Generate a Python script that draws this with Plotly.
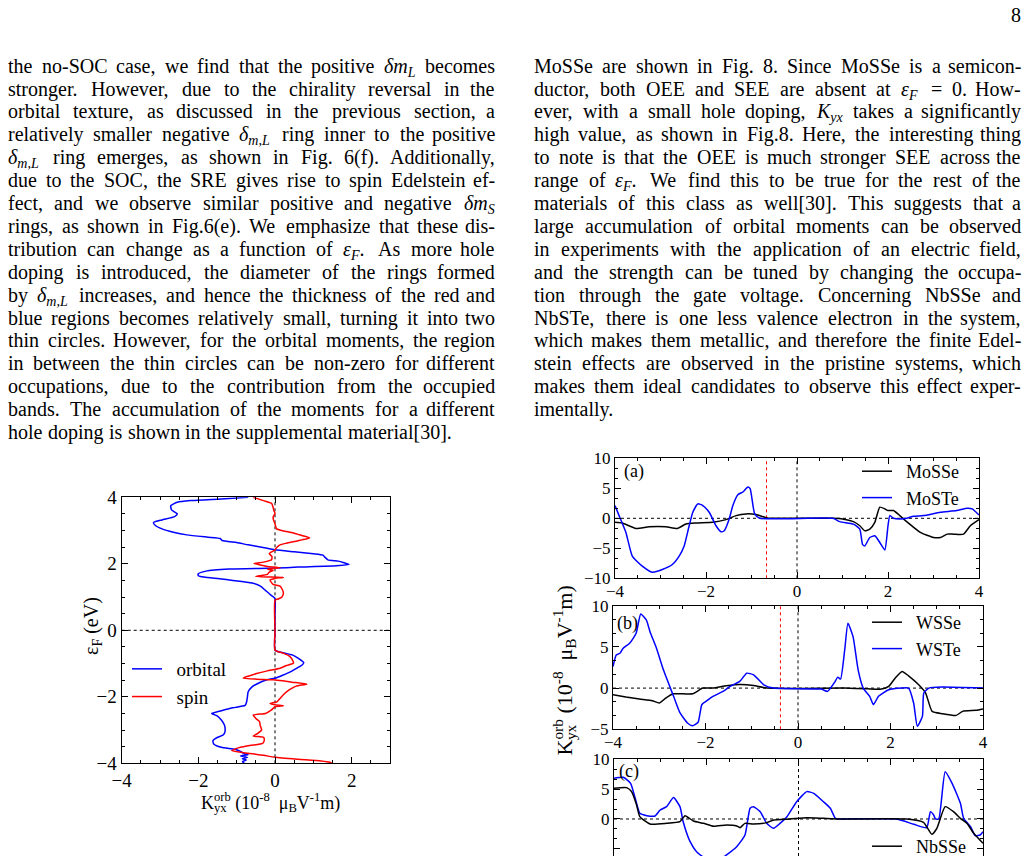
import plotly.graph_objects as go

# ---------------------------------------------------------------- data
# left chart: Fermi energy (eV) vs K_yx (1e-8 muB V^-1 m)
orb_E = [4.00, 3.95, 3.90, 3.85, 3.75, 3.62, 3.50, 3.42, 3.32, 3.24, 3.15, 3.05, 2.95, 2.87, 2.80, 2.76, 2.70, 2.64,
         2.57, 2.50, 2.42, 2.36, 2.30, 2.26, 2.20, 2.12, 2.08, 2.03, 1.98, 1.94, 1.90, 1.87, 1.84, 1.78, 1.70, 1.64,
         1.60, 1.55, 1.50, 1.42, 1.33, 1.20, 1.05, 0.96, 0.50, 0.00, -0.60, -0.66, -0.74, -0.85, -0.97, -1.05, -1.15,
         -1.25, -1.35, -1.44, -1.50, -1.60, -1.70, -1.85, -2.00, -2.15, -2.26, -2.33, -2.42, -2.50, -2.58, -2.70,
         -2.85, -3.00, -3.10, -3.15, -3.25, -3.32, -3.42, -3.52, -3.58, -3.64, -3.70, -3.74, -3.78, -3.82, -3.86,
         -3.90, -3.95, -4.00]
orb_K = [-0.70, -1.40, -2.20, -2.55, -2.72, -2.70, -2.55, -2.62, -2.95, -3.17, -3.12, -2.95, -2.65, -2.30, -1.75,
         -1.43, -1.38, -1.00, -0.70, -0.35, 0.00, 0.50, 1.00, 1.25, 1.30, 1.38, 1.65, 1.80, 1.93, 1.60, 0.60, 0.00,
         -1.20, -1.80, -2.00, -2.00, -1.85, -1.45, -1.10, -0.60, -0.38, -0.25, -0.10, 0.00, 0.00, 0.00, 0.00, 0.15,
         0.45, 0.62, 0.75, 0.70, 0.55, 0.40, 0.20, 0.00, -0.25, -0.45, -0.60, -0.70, -0.72, -0.74, -0.78, -1.10,
         -1.40, -1.65, -1.50, -1.40, -1.32, -1.30, -1.32, -1.36, -1.55, -1.62, -1.60, -1.40, -1.05, -0.90, -0.82,
         -0.70, -0.90, -0.72, -0.85, -0.75, -0.85, -0.80]
spin_E = [4.00, 3.90, 3.82, 3.70, 3.60, 3.52, 3.40, 3.32, 3.20, 3.05, 2.97, 2.92, 2.85, 2.78, 2.72, 2.68, 2.62, 2.57,
          2.50, 2.42, 2.35, 2.30, 2.22, 2.12, 2.05, 2.01, 1.97, 1.92, 1.88, 1.84, 1.80, 1.75, 1.68, 1.62, 1.59, 1.56,
          1.51, 1.45, 1.38, 1.33, 1.25, 1.12, 1.00, 0.95, 0.90, 0.00, -0.60, -0.68, -0.79, -0.90, -0.99, -1.06, -1.14,
          -1.22, -1.30, -1.38, -1.44, -1.47, -1.49, -1.52, -1.56, -1.62, -1.68, -1.78, -1.90, -2.05, -2.15, -2.20,
          -2.24, -2.27, -2.30, -2.40, -2.50, -2.55, -2.65, -2.75, -2.85, -3.00, -3.10, -3.18, -3.22, -3.30, -3.40,
          -3.48, -3.55, -3.62, -3.70, -3.76, -3.82, -3.88, -3.93, -3.97, -4.00]
spin_K = [-0.57, -0.30, -0.09, -0.05, -0.03, 0.00, -0.05, -0.04, 0.00, 0.04, 0.30, 0.50, 0.70, 0.90, 0.70, 0.55, 0.30,
          0.13, 0.05, 0.00, -0.10, -0.15, -0.08, -0.09, -0.30, -0.55, -0.40, -0.20, 0.13, -0.20, -0.05, -0.15, -0.20,
          -0.50, 0.22, 0.00, -0.13, -0.10, -0.05, 0.13, 0.18, 0.22, 0.18, 0.10, 0.00, 0.00, 0.00, 0.20, 0.39, 0.46,
          0.48, 0.30, 0.13, -0.20, -0.48, -0.70, -0.83, -0.48, -0.04, 0.20, 0.45, 0.83, 0.55, 0.39, 0.25, 0.13, 0.05,
          -0.13, 0.00, 0.22, 0.00, -0.10, -0.25, -0.57, -0.50, -0.40, -0.39, -0.35, -0.45, -0.57, -0.30, -0.28,
          -0.32, -0.74, -1.00, -1.13, -0.70, -0.30, 0.00, 0.60, 1.20, 1.43, 1.48]

# right chart, panel (a)
mosse_x = [-4, -3.84, -3.54, -3.25, -2.88, -2.63, -2.44, -2.22, -1.85, -1.56, -1.34, -1.12, -0.90, -0.68, -0.53, 0.79,
           1.00, 1.24, 1.38, 1.49, 1.60, 1.71, 1.82, 1.93, 2.00, 2.12, 2.26, 2.41, 2.71, 3.00, 3.15, 3.30, 3.44, 3.66,
           3.81, 4.00]
mosse_y = [-0.67, -0.79, -1.69, -1.40, -1.40, -1.69, -0.96, -0.79, -0.67, -0.22, 0.45, 0.73, 0.62, 0.11, 0, 0, -0.1,
           -0.56, -1.24, -2.08, -1.80, -0.67, 1.85, 1.57, 1.29, 1.29, 0.45, -0.56, -2.36, -3.20, -3.20, -2.64, -2.64,
           -2.64, -1.24, -0.22]
moste_x = [-4, -3.91, -3.76, -3.62, -3.40, -3.18, -2.96, -2.74, -2.59, -2.48, -2.37, -2.29, -2.18, -2.07, -1.93, -1.78,
           -1.67, -1.60, -1.49, -1.41, -1.30, -1.19, -1.08, -1.03, -0.93, -0.82, 0.79, 0.94, 1.24, 1.38, 1.44, 1.49,
           1.60, 1.71, 1.82, 1.93, 2.00, 2.04, 2.12, 2.26, 2.41, 2.56, 2.78, 3.15, 3.51, 3.74, 3.85, 4.00]
moste_y = [2.13, 0.45, -2.36, -6.30, -7.98, -8.99, -8.54, -7.70, -6.30, -4.60, -1.24, 1.00, 2.40, 2.13, 1.00, -1.24,
           -2.25, -2.08, -0.11, 2.13, 3.93, 4.38, 5.22, 4.94, 0.73, 0, 0, -0.56, -0.96, -1.80, -4.33, -4.60, -3.20,
           -2.92, -4.04, -5.28, -1.24, 0.45, 0, -0.11, 0, 0.34, 0.45, 1.00, 1.29, 1.69, 1.57, 0.56]
# panel (b)
wsse_x = [-4, -3.72, -3.43, -3.15, -3.00, -2.86, -2.70, -2.28, -2.06, -1.84, -1.55, -1.26, -0.96, -0.67, 1.00, 1.50,
          1.81, 1.96, 2.10, 2.25, 2.39, 2.61, 2.76, 2.90, 3.12, 3.42, 3.56, 3.85, 4.00]
wsse_y = [-0.81, -1.09, -1.33, -1.53, -1.81, -1.21, -0.69, -0.69, 0, 0, 0.28, 0.44, 0.32, 0, 0, -0.08, -0.12, 0.20,
          1.21, 2.02, 1.49, 0.40, -0.60, -2.82, -3.10, -3.31, -2.82, -2.70, -2.54]
wste_x = [-4, -3.93, -3.85, -3.78, -3.64, -3.50, -3.40, -3.28, -3.20, -3.06, -2.91, -2.69, -2.55, -2.39, -2.28, -2.16,
          -2.08, -1.99, -1.84, -1.62, -1.47, -1.26, -1.11, -0.96, -0.74, -0.53, 0.50, 0.64, 0.79, 0.86, 0.92, 1.01,
          1.08, 1.19, 1.30, 1.41, 1.55, 1.63, 1.74, 1.96, 2.25, 2.39, 2.50, 2.58, 2.69, 2.72, 2.83, 3.12, 4.00]
wste_y = [2.62, 4.03, 4.23, 4.84, 5.44, 6.65, 9.00, 8.27, 6.85, 4.84, 2.22, -1.00, -3.02, -4.23, -4.56, -4.15, -2.02,
          -1.61, -1.00, -0.40, 0.20, 0.81, 1.81, 1.61, 0.40, 0, -0.12, -0.40, 0.69, 1.33, 1.09, 4.64, 7.86, 6.25, 2.22,
          0, -1.00, -2.02, -1.00, -0.20, 0, 0, -1.81, -4.64, -3.43, -0.60, 0, 0.12, 0]
# panel (c)
nbsse_x = [-4, -3.73, -3.62, -3.51, -3.44, -3.22, -2.86, -2.57, -2.46, -2.28, -2.06, -1.84, -1.56, -1.34, -1.27, -1.16,
           -0.98, -0.69, -0.54, -0.18, 0.18, 0.54, 0.90, 2.35, 2.71, 2.89, 3.00, 3.18, 3.36, 3.51, 3.65, 3.80, 4.00]
nbsse_y = [5.14, 5.25, 4.58, 2.35, 0.39, -0.84, -0.73, -0.45, 0.56, -0.34, -0.73, -1.23, -1.00, -1.17, -1.45, -0.73,
           -0.84, -0.61, -0.17, 0, 0.22, 0.11, 0, 0, -0.56, -2.57, -1.56, 2.07, 1.23, 0.11, -0.73, -2.40, -4.08]
nbste_x = [-4, -3.80, -3.64, -3.54, -3.44, -3.29, -3.11, -3.00, -2.86, -2.71, -2.57, -2.50, -2.35, -2.21, -1.99, -1.80,
           -1.56, -1.34, -1.16, -1.05, -0.98, -0.83, -0.69, -0.54, -0.40, -0.25, -0.04, 0.18, 0.33, 0.54, 0.69, 0.80,
           0.90, 2.13, 2.50, 2.78, 2.86, 2.93, 2.97, 3.04, 3.18, 3.33, 3.51, 3.58, 3.73, 3.83, 3.94, 4.00]
nbste_y = [6.82, 6.98, 5.98, 3.46, 0.95, 0.56, 0.50, 1.50, 2.07, 3.58, 2.07, -0.45, -3.80, -5.47, -6.80, -7.20, -6.00,
           -4.64, -2.68, 1.79, 2.07, 1.23, -0.73, -1.56, -0.73, 0.39, 2.90, 4.58, 4.30, 2.90, 1.79, 0.11, 0, 0, -0.89,
           -1.45, 1.23, 0.67, 0, 0, 7.93, 5.98, 2.63, 0.11, -1.28, -2.79, -2.68, -2.12]

# tick values
left_xticks = [-4, -2, 0, 2]
left_yticks = [-4, -2, 0, 2, 4]
right_xticks = [-4, -2, 0, 2, 4]
a_yticks = [-10, -5, 0, 5, 10]
b_yticks = [-5, 0, 5, 10]
c_yticks = [-5, 0, 5, 10]
red_markers = {"a": -0.67, "b": -0.38}   # vertical red dotted lines

# page text
LEFT_LINES = [
    "the no-SOC case, we find that the positive δmL becomes",
    "stronger. However, due to the chirality reversal in the",
    "orbital texture, as discussed in the previous section, a",
    "relatively smaller negative δm,L ring inner to the positive",
    "δm,L ring emerges, as shown in Fig. 6(f). Additionally,",
    "due to the SOC, the SRE gives rise to spin Edelstein ef-",
    "fect, and we observe similar positive and negative δmS",
    "rings, as shown in Fig.6(e). We emphasize that these dis-",
    "tribution can change as a function of εF. As more hole",
    "doping is introduced, the diameter of the rings formed",
    "by δm,L increases, and hence the thickness of the red and",
    "blue regions becomes relatively small, turning it into two",
    "thin circles. However, for the orbital moments, the region",
    "in between the thin circles can be non-zero for different",
    "occupations, due to the contribution from the occupied",
    "bands. The accumulation of the moments for a different",
    "hole doping is shown in the supplemental material[30].",
]
RIGHT_LINES = [
    "MoSSe are shown in Fig. 8. Since MoSSe is a semicon-",
    "ductor, both OEE and SEE are absent at εF = 0. How-",
    "ever, with a small hole doping, Kyx takes a significantly",
    "high value, as shown in Fig.8. Here, the interesting thing",
    "to note is that the OEE is much stronger SEE across the",
    "range of εF. We find this to be true for the rest of the",
    "materials of this class as well[30]. This suggests that a",
    "large accumulation of orbital moments can be observed",
    "in experiments with the application of an electric field,",
    "and the strength can be tuned by changing the occupa-",
    "tion through the gate voltage. Concerning NbSSe and",
    "NbSTe, there is one less valence electron in the system,",
    "which makes them metallic, and therefore the finite Edel-",
    "stein effects are observed in the pristine systems, which",
    "makes them ideal candidates to observe this effect exper-",
    "imentally.",
]

# ---------------------------------------------------------------- helpers
W, H = 1029, 856
SERIF = "Liberation Serif"
BLUE, RED, BLACK = "#0000ff", "#ff0000", "#000000"


def px(x):
    return x / W


def py(y):
    return 1 - y / H


TW = {' ': 250, 'a': 444, 'b': 500, 'c': 444, 'd': 500, 'e': 444, 'f': 333, 'g': 500, 'h': 500, 'i': 278, 'j': 278,
      'k': 500, 'l': 278, 'm': 778, 'n': 500, 'o': 500, 'p': 500, 'q': 500, 'r': 333, 's': 389, 't': 278, 'u': 500,
      'v': 500, 'w': 722, 'x': 500, 'y': 500, 'z': 444, 'A': 722, 'B': 667, 'C': 667, 'D': 722, 'E': 611, 'F': 556,
      'G': 722, 'H': 722, 'I': 333, 'J': 389, 'K': 722, 'L': 611, 'M': 889, 'N': 722, 'O': 722, 'P': 556, 'Q': 722,
      'R': 667, 'S': 556, 'T': 611, 'U': 722, 'V': 722, 'W': 944, 'X': 722, 'Y': 722, 'Z': 611, '.': 250, ',': 250,
      '-': 333, '(': 333, ')': 333, '[': 333, ']': 333, ':': 278, '=': 564}
for d in "0123456789":
    TW[d] = 500
TWI = {'m': 722, 'L': 556, 'S': 500, 'F': 611, 'K': 667, 'y': 444, 'x': 444, ',': 250, 'δ': 500, 'ε': 450}


def tw(s, table=None):
    t = table or {}
    return sum(t.get(c, TW.get(c, 500)) for c in s) / 1000.0


def mathword(main, sub, tail=""):
    html = "<i>%s</i><sub><i>%s</i></sub>%s" % (main, sub, tail)
    return html, tw(main, TWI) + 0.7 * tw(sub, TWI) + tw(tail) + 0.1


SPECIAL = {
    "δmL": mathword("δm", "L"),
    "δmS": mathword("δm", "S"),
    "δm,L": mathword("δ", "m,L"),
    "εF": mathword("ε", "F"),
    "εF.": mathword("ε", "F", "."),
    "Kyx": mathword("K", "yx"),
}

annotations = []


def add_paragraph(lines, x0, x1, yc0, dy, size):
    for i, line in enumerate(lines):
        items = [SPECIAL.get(w_, (w_, tw(w_))) for w_ in line.split(" ")]
        widths = [wd * size for _, wd in items]
        last = (i == len(lines) - 1)
        if last or len(items) == 1:
            gap = 0.27 * size
        else:
            gap = (x1 - x0 - sum(widths)) / (len(items) - 1)
        x = x0
        ytop = yc0 + i * dy - 13
        for k, ((html, _), wpx) in enumerate(zip(items, widths)):
            anchor_right = (k == len(items) - 1 and not last and len(items) > 1)
            annotations.append(dict(
                text=html, x=px(x1 if anchor_right else x), y=py(ytop), xref="paper", yref="paper",
                xanchor="right" if anchor_right else "left", yanchor="top", showarrow=False, borderpad=0,
                font=dict(family=SERIF, size=size, color=BLACK)))
            x += wpx + gap


add_paragraph(LEFT_LINES, 7, 496, 66.7, 22.9, 20)
add_paragraph(RIGHT_LINES, 533, 1022, 66.7, 22.9, 20)


def txt(text, x, y, size, xanchor="center", yanchor="middle", angle=0):
    annotations.append(dict(text=text, x=px(x), y=py(y), xref="paper", yref="paper", xanchor=xanchor,
                            yanchor=yanchor, showarrow=False, borderpad=0, textangle=angle,
                            font=dict(family=SERIF, size=size, color=BLACK)))


# axis title with "orb" stacked over "yx": main text plus a second text holding the subscript
TITLE_MAIN = "K<sup>orb</sup> (10<sup>-8</sup>\u00a0\u00a0μ<sub>B</sub>V<sup>-1</sup>m)"
TITLE_SUB = "<span style=\"color:rgba(0,0,0,0)\">K</span><sub>yx</sub>"

txt("8", 1016, 15, 20)
# left x title (horizontal)
txt(TITLE_MAIN, 200, 816, 18, xanchor="left", yanchor="bottom")
txt(TITLE_SUB, 200, 816, 18, xanchor="left", yanchor="bottom")
# right y title (rotated)
txt(TITLE_MAIN, 580, 757, 22, xanchor="right", yanchor="bottom", angle=-90)
txt(TITLE_SUB, 580, 757, 22, xanchor="right", yanchor="bottom", angle=-90)
# left y title
txt("ε<sub>F</sub> (eV)", 92, 626, 20, angle=-90)
# panel labels
txt("(a)", 623, 471, 18, xanchor="left")
txt("(b)", 616, 623, 18, xanchor="left")
txt("(c)", 618, 771, 18, xanchor="left")

# ---------------------------------------------------------------- figure
fig = go.Figure()
lw = 1.5


def line(color):
    return dict(color=color, width=lw, shape="spline", smoothing=0.5)


fig.add_trace(go.Scatter(x=orb_K, y=orb_E, mode="lines", name="\u00a0\u00a0orbital", line=line(BLUE),
                         xaxis="x", yaxis="y", legend="legend"))
fig.add_trace(go.Scatter(x=spin_K, y=spin_E, mode="lines", name="\u00a0\u00a0spin", line=line(RED),
                         xaxis="x", yaxis="y", legend="legend"))
fig.add_trace(go.Scatter(x=mosse_x, y=mosse_y, mode="lines", name="\u00a0\u00a0MoSSe", line=line(BLACK),
                         xaxis="x2", yaxis="y2", legend="legend2"))
fig.add_trace(go.Scatter(x=moste_x, y=moste_y, mode="lines", name="\u00a0\u00a0MoSTe", line=line(BLUE),
                         xaxis="x2", yaxis="y2", legend="legend2"))
fig.add_trace(go.Scatter(x=wsse_x, y=wsse_y, mode="lines", name="\u00a0\u00a0WSSe", line=line(BLACK),
                         xaxis="x3", yaxis="y3", legend="legend3"))
fig.add_trace(go.Scatter(x=wste_x, y=wste_y, mode="lines", name="\u00a0\u00a0WSTe", line=line(BLUE),
                         xaxis="x3", yaxis="y3", legend="legend3"))
fig.add_trace(go.Scatter(x=nbste_x, y=nbste_y, mode="lines", name="NbSTe", line=line(BLUE),
                         xaxis="x4", yaxis="y4", showlegend=False))
fig.add_trace(go.Scatter(x=nbsse_x, y=nbsse_y, mode="lines", name="\u00a0\u00a0NbSSe", line=line(BLACK),
                         xaxis="x4", yaxis="y4", legend="legend4"))


def axis(domain, rng, ticks, minor_dtick, anchor, size, **kw):
    d = dict(domain=domain, range=rng, anchor=anchor, tickmode="array", tickvals=ticks,
             showline=True, linecolor=BLACK, linewidth=1.2, mirror="allticks", ticks="inside", ticklen=6,
             tickwidth=1, tickcolor=BLACK, showgrid=False, zeroline=False, automargin=False,
             tickfont=dict(family=SERIF, size=size, color=BLACK),
             minor=dict(ticks="inside", ticklen=3, tickwidth=1, tickcolor=BLACK, tickmode="linear", tick0=0,
                        dtick=minor_dtick, showgrid=False))
    d.update(kw)
    return d


layout = dict(
    width=W, height=H, margin=dict(l=0, r=0, t=0, b=0, autoexpand=False),
    paper_bgcolor="white", plot_bgcolor="white",
    xaxis=axis([px(121.7), px(390)], [-4, 3], left_xticks, 0.5, "y", 19),
    yaxis=axis([py(763.3), py(497.3)], [-4, 4], left_yticks, 0.5, "x", 19),
    xaxis2=axis([px(615), px(979)], [-4, 4], right_xticks, 0.5, "y2", 17, ticklabelstandoff=-3),
    yaxis2=axis([py(578.3), py(458.3)], [-10, 10], a_yticks, 5 / 3, "x2", 17),
    xaxis3=axis([px(613), px(983)], [-4, 4], right_xticks, 0.5, "y3", 17, ticklabelstandoff=-3),
    yaxis3=axis([py(729.3), py(605.7)], [-5, 10], b_yticks, 5 / 3, "x3", 17),
    xaxis4=axis([px(614), px(983)], [-4, 4], right_xticks, 0.5, "y4", 17, side="top", mirror=False,
                showticklabels=False),
    yaxis4=axis([0, py(759.3)], [-6.2, 10], c_yticks, 5 / 3, "x4", 17),
    annotations=annotations,
)

leg_common = dict(xanchor="left", yanchor="top", bgcolor="rgba(0,0,0,0)", borderwidth=0,
                  font=dict(family=SERIF, size=18, color=BLACK), itemwidth=30, tracegroupgap=0)
layout["legend"] = dict(leg_common, x=px(127), y=py(650), font=dict(family=SERIF, size=19, color=BLACK))
layout["legend2"] = dict(leg_common, x=px(857), y=py(453))
layout["legend3"] = dict(leg_common, x=px(867), y=py(604))
layout["legend4"] = dict(leg_common, x=px(867), y=py(828))

shapes = []


def vline(x, y0, y1, xr, yr, color=BLACK):
    shapes.append(dict(type="line", x0=x, x1=x, y0=y0, y1=y1, xref=xr, yref=yr, layer="below",
                       line=dict(color=color, width=1, dash="dot")))


def hline(y, x0, x1, xr, yr):
    shapes.append(dict(type="line", x0=x0, x1=x1, y0=y, y1=y, xref=xr, yref=yr, layer="below",
                       line=dict(color=BLACK, width=1, dash="dot")))


hline(0, -4, 3, "x", "y"); vline(0, -4, 4, "x", "y")
hline(0, -4, 4, "x2", "y2"); vline(0, -10, 10, "x2", "y2"); vline(red_markers["a"], -10, 10, "x2", "y2", RED)
hline(0, -4, 4, "x3", "y3"); vline(0, -5, 10, "x3", "y3"); vline(red_markers["b"], -5, 10, "x3", "y3", RED)
hline(0, -4, 4, "x4", "y4"); vline(0, -6.2, 10, "x4", "y4")
layout["shapes"] = shapes

fig.update_layout(**layout)
fig.write_html("out.html")
